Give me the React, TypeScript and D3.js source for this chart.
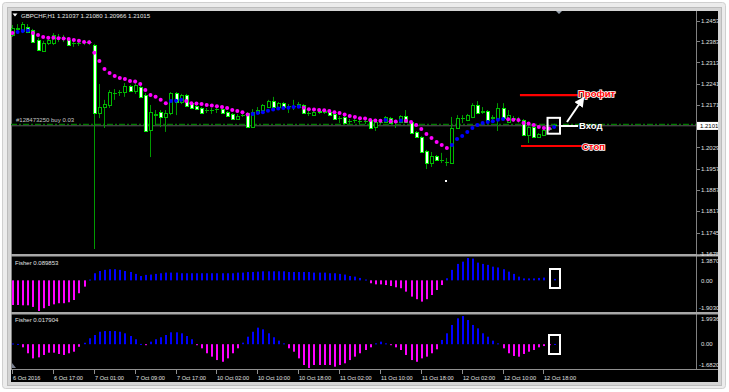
import React from "react";
import * as d3 from "d3";

// ---------- DATA ----------
const symbolTitle = "GBPCHF,H1  1.21037 1.21080 1.20966 1.21015";
const orderLabel = "#128473250 buy 0.03";
const fisher1Title = "Fisher 0.089853";
const fisher2Title = "Fisher 0.017904";

const openP = [1.2405,1.2421,1.2418,1.2431,1.2421,1.2388,1.2351,1.2378,1.2378,1.2395,1.2391,1.2388,1.2375,1.2375,1.2378,1.2378,1.2371,1.2144,1.2164,1.2171,1.2208,1.2211,1.2214,1.2234,1.2218,1.2231,1.2204,1.2087,1.2134,1.2147,1.2131,1.2144,1.2211,1.2181,1.2204,1.2177,1.2167,1.2161,1.2151,1.2151,1.2154,1.2157,1.2147,1.2141,1.2124,1.2134,1.2144,1.2097,1.2144,1.2154,1.2164,1.2184,1.2164,1.2177,1.2164,1.2164,1.2164,1.2171,1.2141,1.2137,1.2151,1.2144,1.2147,1.2141,1.2124,1.2131,1.2114,1.2117,1.2114,1.2114,1.2121,1.2097,1.2111,1.2114,1.2127,1.2111,1.2114,1.2134,1.2114,1.2081,1.2064,1.2017,1.1977,1.2000,1.1984,1.1977,1.1977,1.2094,1.2124,1.2121,1.2131,1.2171,1.2144,1.2151,1.2124,1.2127,1.2161,1.2114,1.2121,1.2117,1.2121,1.2071,1.2097,1.2064,1.2071,1.2087,1.21037];
const highP = [1.2438,1.2441,1.2448,1.2441,1.2425,1.2395,1.2385,1.2395,1.2411,1.2408,1.2405,1.2395,1.2385,1.2385,1.2388,1.2388,1.2375,1.2241,1.2188,1.2221,1.2224,1.2221,1.2244,1.2238,1.2244,1.2238,1.2211,1.2171,1.2154,1.2154,1.2154,1.2214,1.2214,1.2208,1.2208,1.2181,1.2171,1.2164,1.2161,1.2161,1.2164,1.2161,1.2151,1.2144,1.2141,1.2144,1.2147,1.2157,1.2164,1.2174,1.2188,1.2198,1.2181,1.2181,1.2174,1.2188,1.2181,1.2174,1.2151,1.2151,1.2154,1.2154,1.2151,1.2144,1.2134,1.2134,1.2124,1.2124,1.2124,1.2127,1.2124,1.2117,1.2121,1.2134,1.2131,1.2121,1.2137,1.2154,1.2117,1.2084,1.2067,1.2021,1.2014,1.2004,1.2011,1.1994,1.2131,1.2137,1.2137,1.2141,1.2177,1.2184,1.2164,1.2154,1.2137,1.2177,1.2177,1.2154,1.2134,1.2131,1.2124,1.2101,1.2101,1.2077,1.2091,1.2097,1.2108];
const lowP = [1.2398,1.2415,1.2411,1.2411,1.2378,1.2351,1.2348,1.2371,1.2371,1.2381,1.2381,1.2368,1.2365,1.2368,1.2371,1.2371,1.1690,1.2127,1.2094,1.2161,1.2188,1.2201,1.2198,1.2214,1.2208,1.2194,1.2084,1.1997,1.2104,1.2097,1.2081,1.2137,1.2137,1.2174,1.2164,1.2157,1.2154,1.2141,1.2144,1.2141,1.2144,1.2141,1.2131,1.2121,1.2121,1.2131,1.2097,1.2094,1.2141,1.2151,1.2161,1.2161,1.2161,1.2161,1.2144,1.2154,1.2161,1.2141,1.2134,1.2134,1.2141,1.2141,1.2134,1.2121,1.2111,1.2107,1.2107,1.2111,1.2107,1.2107,1.2091,1.2084,1.2107,1.2111,1.2107,1.2094,1.2111,1.2111,1.2074,1.2061,1.2011,1.1957,1.1964,1.1984,1.1977,1.1967,1.1974,1.2091,1.2111,1.2117,1.2127,1.2141,1.2141,1.2117,1.2117,1.2084,1.2124,1.2111,1.2114,1.2111,1.2067,1.2044,1.2061,1.2061,1.2067,1.2084,1.20966];
const closeP = [1.2428,1.2428,1.2441,1.2415,1.2381,1.2355,1.2378,1.2388,1.2405,1.2398,1.2395,1.2371,1.2378,1.2378,1.2381,1.2381,1.2144,1.2164,1.2174,1.2214,1.2211,1.2214,1.2234,1.2218,1.2238,1.2198,1.2084,1.2147,1.2141,1.2131,1.2144,1.2211,1.2181,1.2204,1.2167,1.2161,1.2157,1.2144,1.2154,1.2154,1.2157,1.2144,1.2134,1.2124,1.2134,1.2137,1.2097,1.2147,1.2154,1.2171,1.2184,1.2164,1.2177,1.2164,1.2167,1.2167,1.2174,1.2144,1.2144,1.2147,1.2144,1.2151,1.2137,1.2124,1.2127,1.2111,1.2117,1.2121,1.2117,1.2117,1.2094,1.2114,1.2114,1.2131,1.2111,1.2114,1.2134,1.2114,1.2077,1.2064,1.2014,1.1977,1.2000,1.1987,1.1987,1.1980,1.2094,1.2127,1.2127,1.2137,1.2171,1.2144,1.2151,1.2121,1.2131,1.2161,1.2127,1.2137,1.2127,1.2121,1.2071,1.2097,1.2064,1.2074,1.2087,1.2094,1.21015];
const maLine = [1.2411,1.2415,1.2418,1.2420,1.2411,1.2405,1.2398,1.2395,1.2395,1.2394,1.2393,1.2391,1.2388,1.2385,1.2381,1.2380,1.2345,1.2318,1.2291,1.2278,1.2268,1.2261,1.2258,1.2251,1.2249,1.2241,1.2221,1.2204,1.2198,1.2188,1.2177,1.2184,1.2185,1.2188,1.2184,1.2177,1.2176,1.2174,1.2171,1.2169,1.2167,1.2164,1.2161,1.2154,1.2151,1.2147,1.2139,1.2141,1.2144,1.2147,1.2152,1.2156,1.2159,1.2161,1.2162,1.2164,1.2165,1.2162,1.2157,1.2156,1.2154,1.2153,1.2151,1.2147,1.2144,1.2139,1.2134,1.2131,1.2127,1.2126,1.2121,1.2119,1.2118,1.2121,1.2117,1.2116,1.2119,1.2118,1.2114,1.2104,1.2091,1.2074,1.2061,1.2047,1.2037,1.2027,1.2037,1.2057,1.2067,1.2081,1.2094,1.2104,1.2111,1.2114,1.2117,1.2122,1.2124,1.2123,1.2122,1.2121,1.2111,1.2109,1.2104,1.2097,1.2094,1.2092,1.2097];
const fisher1 = [-1.53,-1.53,-1.55,-1.55,-1.65,-1.90,-1.73,-1.59,-1.49,-1.42,-1.42,-1.36,-1.22,-0.80,-0.39,0.05,0.44,0.58,0.65,0.69,0.69,0.65,0.58,0.52,0.40,0.27,0.34,0.36,0.40,0.44,0.48,0.48,0.48,0.44,0.44,0.44,0.44,0.44,0.44,0.44,0.44,0.44,0.44,0.44,0.48,0.48,0.52,0.52,0.54,0.56,0.56,0.56,0.56,0.56,0.52,0.52,0.52,0.52,0.52,0.48,0.48,0.48,0.44,0.44,0.40,0.36,0.27,0.23,0.15,0.05,-0.18,-0.25,-0.25,-0.29,-0.35,-0.43,-0.49,-0.70,-1.01,-1.17,-1.32,-1.17,-0.91,-0.60,-0.29,0.13,0.65,1.02,1.16,1.387,1.35,1.10,1.02,0.96,0.85,0.80,0.69,0.54,0.40,0.23,0.12,0.12,0.12,0.15,0.17,0.12,0.09];
const fisher2 = [0.05,0.02,-0.22,-0.64,-1.0,-0.93,-0.76,-0.60,-0.60,-0.69,-0.76,-0.64,-0.53,-0.18,0.10,0.42,0.65,0.88,0.93,0.93,0.93,0.88,0.77,0.58,0.35,0.02,-0.06,0.18,0.35,0.49,0.65,0.84,0.84,0.77,0.58,0.35,-0.06,-0.29,-0.64,-0.88,-1.12,-1.24,-1.0,-0.64,-0.29,0.11,0.53,0.88,1.17,1.05,0.77,0.49,0.25,0.06,-0.29,-0.53,-1.0,-1.47,-1.68,-1.47,-1.47,-1.47,-1.47,-1.59,-1.47,-1.35,-1.12,-0.88,-0.64,-0.41,-0.22,0.06,0.18,0.06,-0.06,-0.22,-0.41,-0.76,-1.12,-1.24,-1.0,-0.88,-0.64,-0.36,0.30,0.77,1.36,1.83,1.99,1.71,1.36,1.12,0.77,0.53,0.25,0.06,-0.29,-0.64,-0.83,-0.88,-0.69,-0.53,-0.41,-0.22,-0.13,-0.06,0.018];

const priceTicks = [1.2453,1.2383,1.2313,1.2241,1.2171,1.2029,1.1957,1.1887,1.1817,1.1745,1.1675];
const bidPrice = 1.2101;
const bidPriceExact = 1.21015;
const orderPrice = 1.2106;
const profitPrice = 1.2204;
const stopPrice = 1.2034;
const f1Range = [-1.90305, 1.38709];
const f2Range = [-1.68203, 1.99364];
const f1Labels = ["1.38709", "0.00", "-1.90305"];
const f2Labels = ["1.99364", "0.00", "-1.68203"];
const timeIdx = [0,8,16,24,32,40,48,56,64,72,80,88,96,104];
const timeLabels = ["6 Oct 2016","6 Oct 17:00","7 Oct 01:00","7 Oct 09:00","7 Oct 17:00","10 Oct 02:00","10 Oct 10:00","10 Oct 18:00","11 Oct 02:00","11 Oct 10:00","11 Oct 18:00","12 Oct 02:00","12 Oct 10:00","12 Oct 18:00"];
const annoTexts = { profit: "Профит", entry: "Вход", stop: "Стоп" };

// ---------- STYLE ----------
const FONT = "'Liberation Sans', Arial, sans-serif";
const WICK = "#009a00";
const HOLLOW = "#00b800";
const LIME = "#00f000";
const BLUE = "#0000ff";
const MAG = "#ff00ff";
const AXIS_TXT = "#e0e0e0";
const SEP = "#a8a8a8";

export default function App() {
  const n = closeP.length;
  const x = d3.scaleLinear().domain([0, n - 1]).range([12, 12 + (n - 1) * 5.11]);
  const yM = d3.scaleLinear().domain([1.1675, 1.2453]).range([253.5, 20.5]);
  const yF1 = d3.scaleLinear().domain(f1Range).range([311, 258]);
  const yF2 = d3.scaleLinear().domain(f2Range).range([368, 316]);
  const px = (i: number) => Math.round(x(i));

  const candles = openP.map((o, i) => {
    const c = closeP[i];
    const cx = px(i);
    const bull = c >= o;
    const yT = Math.round(yM(Math.max(o, c)));
    const yB = Math.round(yM(Math.min(o, c)));
    const bh = yB - yT;
    return (
      <g key={"c" + i}>
        <line x1={cx + 0.5} x2={cx + 0.5} y1={yM(highP[i])} y2={yM(lowP[i])} stroke={WICK} strokeWidth={1} />
        {bh <= 2 ? (
          <rect x={cx - 1} y={yT} width={4} height={Math.max(1, bh)} fill={bull ? HOLLOW : LIME} />
        ) : (
          <g>
            <rect x={cx - 1} y={yT} width={4} height={bh + 1} fill={bull ? HOLLOW : LIME} />
            <rect x={cx} y={yT + 1} width={2} height={bh - 1} fill={bull ? "#000" : "#fff"} />
          </g>
        )}
      </g>
    );
  });

  const dots = maLine.map((v, i) => {
    const up = i > 0 && v > maLine[i - 1];
    return <circle key={"d" + i} cx={x(i) + 0.5} cy={yM(v)} r={2} fill={up ? BLUE : MAG} />;
  });

  const fBars = (vals: number[], y: d3.ScaleLinear<number, number>, k: string) =>
    vals.map((v, i) => {
      const y0 = y(0);
      const y1 = y(v);
      const top = Math.min(y0, y1);
      const h = Math.max(1, Math.abs(y1 - y0));
      return <rect key={k + i} x={px(i)} y={top} width={2} height={h} fill={v >= 0 ? BLUE : MAG} />;
    });

  const txt = (s: string, xx: number, yy: number, size = 6, fill = AXIS_TXT, extra: any = {}) => (
    <text x={xx} y={yy} fontSize={size} fill={fill} fontFamily={FONT} {...extra}>{s}</text>
  );

  const ySeps = [255.5, 313.5];
  const boxRight = 560;

  return (
    <svg width={729} height={392} style={{ position: "fixed", left: 0, top: 0 }}>
      <defs>
        <clipPath id="chartClip">
          <rect x={11} y={11} width={707} height={371} />
        </clipPath>
        <marker id="arrowHead" viewBox="0 0 10 10" refX="6" refY="5" markerWidth="5" markerHeight="5" orient="auto">
          <path d="M0,0 L10,5 L0,10 z" fill="#fff" />
        </marker>
      </defs>
      {/* window frame */}
      <rect x={0} y={0} width={729} height={392} fill="#ffffff" />
      <rect x={2.5} y={2.5} width={723} height={386} rx={3} fill="#ececec" stroke="#cfcfcf" />
      <rect x={7.5} y={7.5} width={714} height={378} fill="#d4d4d4" stroke="#bcbcbc" />
      <rect x={11} y={11} width={707} height={371} fill="#000" />

      <g clipPath="url(#chartClip)">
        {/* separators and borders */}
        <line x1={11.5} x2={11.5} y1={11} y2={370} stroke="#808080" />
        <line x1={696.5} x2={696.5} y1={11} y2={370} stroke="#808080" />
        {ySeps.map((yy, i) => (
          <rect key={"s" + i} x={11} y={yy - 1.5} width={707} height={2.5} fill={SEP} />
        ))}
        <line x1={11} x2={718} y1={369.5} y2={369.5} stroke="#909090" />

        {/* order + bid lines */}
        <line x1={11} x2={696} y1={yM(orderPrice)} y2={yM(orderPrice)} stroke="#007800" strokeWidth={1.3} strokeDasharray="6,2,2,2" />
        <line x1={11} x2={696} y1={yM(bidPriceExact)} y2={yM(bidPriceExact)} stroke="#5a5a5a" strokeWidth={1} />
        {txt(orderLabel, 16, 122, 6, "#c8c8c8")}

        {/* price axis */}
        {priceTicks.map((p, i) => (
          <g key={"pt" + i}>
            <line x1={697} x2={700} y1={Math.round(yM(p)) + 0.5} y2={Math.round(yM(p)) + 0.5} stroke="#808080" />
            {txt(p.toFixed(4), 701, yM(p) + 2.2)}
          </g>
        ))}
        <rect x={697} y={yM(bidPrice) - 4} width={22} height={8} fill="#fff" />
        {txt(bidPrice.toFixed(4), 700, yM(bidPrice) + 2.2, 6, "#000")}

        {/* candles and dots */}
        {candles}
        {dots}
        <rect x={445} y={180} width={2} height={2} fill="#fff" />

        {/* title */}
        <path d="M12.5,13.5 L17.5,13.5 L15,16.5 z" fill="#fff" />
        {txt(symbolTitle, 21, 18, 6.1, "#e8e8e8")}
        <path d="M556,11 L562,11 L559,14 z" fill="#9aa4b0" />

        {/* annotations */}
        <line x1={x(99.4)} x2={x(110.7)} y1={yM(profitPrice)} y2={yM(profitPrice)} stroke="#ff0000" strokeWidth={2.2} />
        <line x1={x(99.6)} x2={x(111.5)} y1={yM(stopPrice)} y2={yM(stopPrice)} stroke="#ff0000" strokeWidth={2.2} />
        <text x={578} y={96.5} fontSize={9.5} fontWeight="bold" fill="#ff0000" stroke="#ffffff" strokeWidth={1.6} paintOrder="stroke" fontFamily={FONT}>{annoTexts.profit}</text>
        <text x={582} y={149.5} fontSize={9.5} fontWeight="bold" fill="#ff0000" stroke="#ffffff" strokeWidth={1.6} paintOrder="stroke" fontFamily={FONT}>{annoTexts.stop}</text>
        <text x={579} y={129} fontSize={9.5} fontWeight="bold" fill="#ffffff" fontFamily={FONT}>{annoTexts.entry}</text>
        <rect x={x(104.8)} y={yM(1.2128)} width={boxRight - x(104.8)} height={yM(1.2075) - yM(1.2128)} fill="none" stroke="#fff" strokeWidth={2} />
        <line x1={boxRight} x2={578} y1={126} y2={126} stroke="#fff" strokeWidth={2} />
        <line x1={567} y1={122} x2={582} y2={100} stroke="#fff" strokeWidth={2} markerEnd="url(#arrowHead)" />

        {/* Fisher 1 */}
        {fBars(fisher1, yF1, "a")}
        {txt(fisher1Title, 15, 264.5, 6, "#e0e0e0")}
        {txt(f1Labels[0], 701, yF1(f1Range[1]) + 5, 6)}
        {txt(f1Labels[1], 701, yF1(0) + 2.2, 6)}
        {txt(f1Labels[2], 699, yF1(f1Range[0]) - 1, 6)}
        <rect x={550} y={269} width={10} height={19} fill="none" stroke="#fff" strokeWidth={2} />

        {/* Fisher 2 */}
        {fBars(fisher2, yF2, "b")}
        {txt(fisher2Title, 15, 321.5, 6, "#e0e0e0")}
        {txt(f2Labels[0], 701, yF2(f2Range[1]) + 5, 6)}
        {txt(f2Labels[1], 701, yF2(0) + 2.2, 6)}
        {txt(f2Labels[2], 699, yF2(f2Range[0]) - 1, 6)}
        <rect x={549} y={335} width={11} height={19} fill="none" stroke="#fff" strokeWidth={2} />
        <path d="M12,363 L12,368 L16,368 z" fill="#7a8090" />

        {/* time axis */}
        {timeIdx.map((ti, k) => (
          <g key={"t" + k}>
            <line x1={px(ti) + 0.5} x2={px(ti) + 0.5} y1={370} y2={374} stroke="#909090" />
            {txt(timeLabels[k], px(ti) + 1, 379.5, 5.6)}
          </g>
        ))}
      </g>
    </svg>
  );
}
